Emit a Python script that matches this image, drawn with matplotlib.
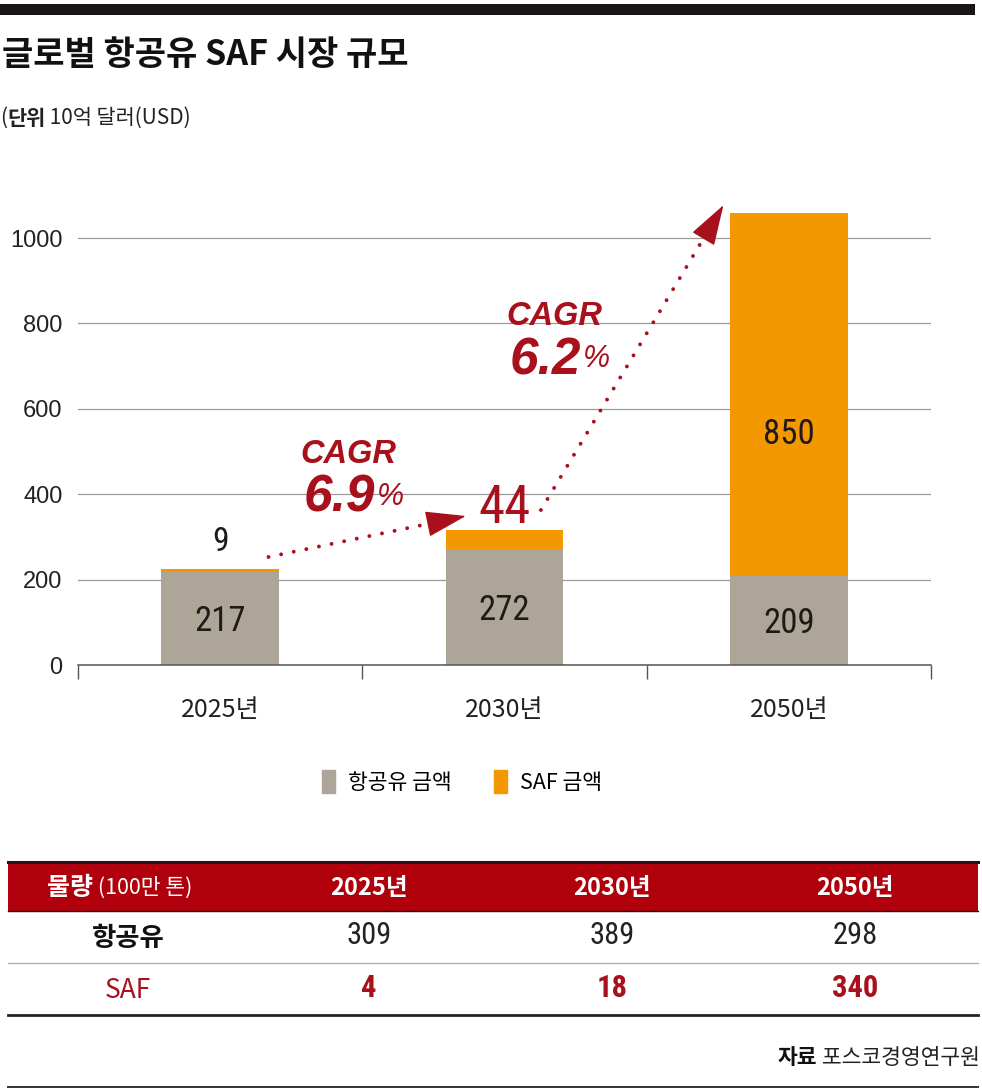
import numpy as np
import matplotlib
matplotlib.use('Agg')
import matplotlib.pyplot as plt
from matplotlib.patches import Rectangle, Patch

plt.rcParams['font.family'] = ['Noto Sans CJK KR', 'DejaVu Sans']

# data
years = ['2025년', '2030년', '2050년']
jet_fuel = [217, 272, 209]      # 항공유 금액 (10억 달러)
saf = [9, 44, 850]              # SAF 금액
cagr = ['6.9', '6.2']
table_head = ['2025년', '2030년', '2050년']
jet_vol = [309, 389, 298]       # 물량 (100만 톤)
saf_vol = [4, 18, 340]
yticks = [0, 200, 400, 600, 800, 1000]

GRAY = '#ada597'
ORANGE = '#f39800'
RED = '#a8101c'
HEAD_RED = '#b0000c'
NARROW = ['Roboto Condensed', 'Liberation Sans Narrow', 'Noto Sans CJK KR']
ARIAL = ['Liberation Sans', 'DejaVu Sans']

fig = plt.figure(figsize=(9.82, 10.9), dpi=100)

# pixel overlay for title / table
deco = fig.add_axes([0, 0, 1, 1])
deco.set_xlim(0, 982)
deco.set_ylim(1090, 0)
deco.axis('off')

deco.add_patch(Rectangle((0, 4), 975, 11, color='#1a1414', lw=0))
deco.text(2, 55, '글로벌 항공유 SAF 시장 규모', fontsize=24.5, fontweight='bold',
          va='center', ha='left', color='#111')
t = deco.text(0, 118, '(', fontsize=15, va='center', ha='left', color='#222')
t = deco.annotate('단위', xy=(1, 0), xycoords=t, fontsize=15, fontweight='bold',
                  va='bottom', ha='left', color='#222')
deco.annotate(' 10억 달러(USD)', xy=(1, 0), xycoords=t, fontsize=15,
              va='bottom', ha='left', color='#222')

# chart
ax = fig.add_axes([78 / 982, 1 - 665 / 1090, 853 / 982, 485 / 1090])
ax.set_facecolor('none')
x = np.arange(len(years))
w = 0.415
ax.bar(x, jet_fuel, w, color=GRAY, zorder=3, label='항공유 금액')
ax.bar(x, saf, w, bottom=jet_fuel, color=ORANGE, zorder=3, label='SAF 금액')
ax.set_xlim(-0.5, 2.5)
ax.set_ylim(0, 1136)
ax.set_yticks(yticks)
ax.set_yticklabels([str(v) for v in yticks], fontsize=17, color='#222', family=ARIAL)
ax.tick_params(axis='y', length=0, pad=11)
ax.set_xticks(x)
ax.set_xticklabels(years, fontsize=18, color='#222')
ax.tick_params(axis='x', which='major', length=0, pad=23)
ax.set_xticks(np.arange(-0.5, 3, 1), minor=True)
ax.tick_params(axis='x', which='minor', length=10, width=1, color='#555')
ax.grid(axis='y', color='#9a9a9a', lw=0.9, zorder=0)
for s in ['top', 'right', 'left']:
    ax.spines[s].set_visible(False)
ax.spines['bottom'].set_color('#555')
ax.spines['bottom'].set_linewidth(1.1)
ax.spines['bottom'].set_zorder(4)

totals = [a + b for a, b in zip(jet_fuel, saf)]
for i in range(3):
    ax.text(x[i], jet_fuel[i] * 0.47, str(jet_fuel[i]), ha='center', va='center',
            fontsize=25, family=NARROW, color='#1e1a18', zorder=5)
ax.text(x[0], totals[0] + 62, str(saf[0]), ha='center', va='center',
        fontsize=24, family=NARROW, color='#1e1a18', zorder=5)
ax.text(x[1], totals[1] + 50, str(saf[1]), ha='center', va='center',
        fontsize=38, family=NARROW, color=RED, zorder=5)
ax.text(x[2], jet_fuel[2] + saf[2] * 0.39, str(saf[2]), ha='center', va='center',
        fontsize=25, family=NARROW, color='#1e1a18', zorder=5)

# CAGR arrows (dotted line + solid head)
arrows = [((x[0] + 0.17, totals[0] + 27), (x[1] - 0.136, totals[1] + 33)),
          ((x[1] + 0.128, totals[1] + 47), (x[2] - 0.23, totals[2] + 18))]
for (x0, y0), (x1, y1) in arrows:
    xb = x1 - (x1 - x0) * 0.1
    yb = y1 - (y1 - y0) * 0.1
    ax.plot([x0, xb], [y0, yb], color=RED, lw=2.8, linestyle=(0, (0.01, 3.3)),
            dash_capstyle='round', zorder=6)
    ax.annotate('', xy=(x1, y1), xytext=(xb, yb),
                arrowprops=dict(arrowstyle='-|>,head_length=1.0,head_width=0.32',
                                color=RED, lw=1, shrinkA=0, shrinkB=0,
                                mutation_scale=26), zorder=6)

cagr_pos = [(0.451, 494), (1.174, 817)]
for (cx, cy), val in zip(cagr_pos, cagr):
    ax.text(cx, cy, 'CAGR', ha='center', va='center', fontsize=23.5,
            fontweight='bold', style='italic', color=RED, family=ARIAL, zorder=6)
    ax.text(cx + 0.095, cy - 104, val, ha='right', va='center', fontsize=37,
            fontweight='bold', style='italic', color=RED, family=ARIAL, zorder=6)
    ax.text(cx + 0.1, cy - 100, '%', ha='left', va='center', fontsize=22,
            style='italic', color=RED, family=ARIAL, zorder=6)

handles = [Patch(color=GRAY, label='항공유 금액'), Patch(color=ORANGE, label='SAF 금액')]
fig.legend(handles=handles, loc='center', bbox_to_anchor=(462 / 982, 1 - 782 / 1090),
           ncol=2, frameon=False, fontsize=15.5, handlelength=0.6, handleheight=1.25,
           handletextpad=0.6, columnspacing=2.0)

# table
deco.add_patch(Rectangle((8, 862), 970, 49, color=HEAD_RED, lw=0))
deco.plot([8, 978], [862, 862], color='#2a1010', lw=2.2)
deco.plot([8, 978], [911, 911], color='#3a0a0a', lw=1)
deco.plot([8, 978], [963, 963], color='#aaaaaa', lw=0.9)
deco.plot([8, 978], [1015, 1015], color='#222', lw=2)
deco.plot([8, 978], [1087, 1087], color='#333', lw=1.4)

t = deco.text(47, 888, '물량', fontsize=18, fontweight='bold', color='white',
              ha='left', va='center')
deco.annotate(' (100만 톤)', xy=(1, 0.5), xycoords=t, fontsize=15.5, color='white',
              ha='left', va='center')
col_x = [369, 612, 855]
for cx, h in zip(col_x, table_head):
    deco.text(cx, 888, h, fontsize=17, fontweight='bold', color='white',
              ha='center', va='center')
deco.text(128, 938, '항공유', fontsize=19, fontweight='bold', color='#111',
          ha='center', va='center')
deco.text(128, 990, 'SAF', fontsize=19, color=RED, ha='center', va='center')
for cx, a, b in zip(col_x, jet_vol, saf_vol):
    deco.text(cx, 936, str(a), fontsize=22, color='#222', ha='center', va='center',
              family=NARROW)
    deco.text(cx, 988, str(b), fontsize=22, color=RED, ha='center', va='center',
              fontweight='bold', family=NARROW)

t = deco.text(980, 1058, ' 포스코경영연구원', fontsize=15.5, color='#222',
              ha='right', va='center')
deco.annotate('자료', xy=(0, 0.5), xycoords=t, fontsize=15.5, fontweight='bold',
              color='#111', ha='right', va='center')

fig.savefig('out.png', dpi=100)
